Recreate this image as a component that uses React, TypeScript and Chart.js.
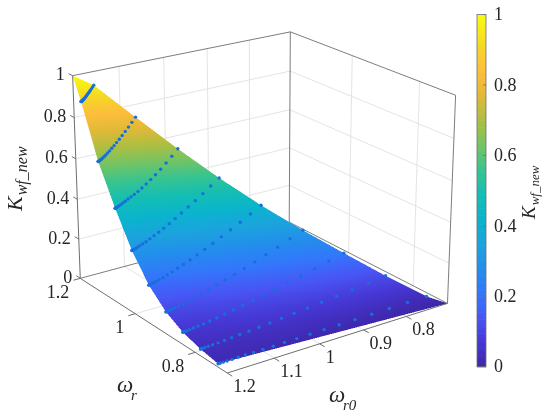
import React, { useEffect, useRef } from 'react';
import { Chart, registerables } from 'chart.js';

Chart.register(...registerables);

// ---------------- data ----------------
// axis ranges
const omegaRRange = [0.7, 1.2];
const omegaR0Range = [0.7, 1.2];
const kRange = [0, 1];

// tick labels
const omegaRTicks = [1.2, 1, 0.8];
const omegaR0Ticks = [1.2, 1.1, 1, 0.9, 0.8];
const kTicks = [0, 0.2, 0.4, 0.6, 0.8, 1];
const colorbarTicks = [0, 0.2, 0.4, 0.6, 0.8, 1];

// omega_r of each line of sample points
const omegaRLines = [1.172, 1.117, 1.061, 1.006, 0.95, 0.894, 0.839, 0.783, 0.728];
// position of each sample along its line: 0 = omega_r0 at 1.2, 1 = omega_r0 equal to omega_r
const sampleSteps = [0, 0.0025, 0.01, 0.0225, 0.04, 0.0625, 0.09, 0.1225, 0.16, 0.2025, 0.25,
  0.3025, 0.36, 0.4225, 0.49, 0.5625, 0.64, 0.7225, 0.81, 0.9025, 1];

// K_wf_new at each sample point (one row per line)
const kLine1 = [0.895, 0.895, 0.895, 0.896, 0.896, 0.897, 0.898, 0.900, 0.902, 0.904, 0.906, 0.910, 0.913, 0.917, 0.922, 0.927, 0.932, 0.938, 0.945, 0.952, 0.960];
const kLine2 = [0.647, 0.647, 0.648, 0.648, 0.650, 0.652, 0.655, 0.659, 0.664, 0.670, 0.677, 0.685, 0.695, 0.705, 0.717, 0.730, 0.745, 0.761, 0.778, 0.797, 0.818];
const kLine3 = [0.464, 0.464, 0.465, 0.466, 0.468, 0.471, 0.475, 0.480, 0.486, 0.493, 0.500, 0.508, 0.518, 0.530, 0.544, 0.560, 0.578, 0.598, 0.622, 0.648, 0.677];
const kLine4 = [0.305, 0.305, 0.306, 0.307, 0.309, 0.313, 0.317, 0.323, 0.329, 0.338, 0.348, 0.359, 0.372, 0.387, 0.404, 0.423, 0.444, 0.466, 0.491, 0.518, 0.547];
const kLine5 = [0.185, 0.185, 0.186, 0.187, 0.189, 0.193, 0.197, 0.202, 0.209, 0.218, 0.228, 0.239, 0.252, 0.267, 0.284, 0.302, 0.323, 0.346, 0.370, 0.397, 0.426];
const kLine6 = [0.106, 0.106, 0.107, 0.108, 0.110, 0.113, 0.116, 0.121, 0.127, 0.135, 0.143, 0.153, 0.165, 0.178, 0.192, 0.208, 0.226, 0.246, 0.267, 0.291, 0.316];
const kLine7 = [0.059, 0.059, 0.060, 0.060, 0.062, 0.064, 0.067, 0.070, 0.075, 0.080, 0.087, 0.094, 0.103, 0.112, 0.123, 0.135, 0.149, 0.164, 0.180, 0.197, 0.216];
const kLine8 = [0.032, 0.032, 0.032, 0.033, 0.034, 0.035, 0.036, 0.038, 0.041, 0.044, 0.047, 0.051, 0.056, 0.061, 0.067, 0.073, 0.081, 0.089, 0.097, 0.107, 0.117];
const kLine9 = [0.016, 0.016, 0.016, 0.016, 0.016, 0.016, 0.017, 0.017, 0.017, 0.018, 0.018, 0.019, 0.019, 0.020, 0.021, 0.022, 0.023, 0.024, 0.025, 0.027, 0.028];
const kLines = [kLine1, kLine2, kLine3, kLine4, kLine5, kLine6, kLine7, kLine8, kLine9];

// the two corner points of the surface
const topCorner = { wr: 1.2, wr0: 1.2, k: 1 };
const tipCorner = { wr: 0.7, wr0: 0.7, k: 0 };

// ---------------- view / style ----------------
const VIEW = { az: 54.5, el: 21, dist: 7, zAspect: 0.82 };
const X_RANGE = { min: -0.9652, max: 1.0688 };
const Y_RANGE = { min: -0.8321, max: 0.7027 };
const CB_RANGE = { min: -0.1324, max: 1.0366 };
const CB_LEFT = 477;
const CB_WIDTH = 9;

const FONT = '"Liberation Serif", "Times New Roman", serif';
const TEXT_COLOR = '#262626';
const AXIS_COLOR = '#6e6e6e';
const GRID_COLOR = '#e4e4e4';
const DOT_COLOR = '#1570dc';

const parulaStops: number[][] = [
  [0.0, 62, 38, 168],
  [0.07, 70, 55, 212],
  [0.14, 72, 85, 244],
  [0.21, 52, 118, 252],
  [0.28, 35, 142, 236],
  [0.35, 28, 163, 222],
  [0.42, 10, 180, 205],
  [0.49, 20, 190, 180],
  [0.56, 55, 196, 145],
  [0.63, 115, 196, 100],
  [0.7, 175, 190, 65],
  [0.77, 225, 185, 55],
  [0.84, 253, 190, 60],
  [0.91, 245, 215, 38],
  [1.0, 249, 251, 14],
];

function parulaRGB(v: number): [number, number, number] {
  const t = Math.max(0, Math.min(1, v));
  for (let i = 1; i < parulaStops.length; i++) {
    const a = parulaStops[i - 1];
    const b = parulaStops[i];
    if (t <= b[0]) {
      const f = (t - a[0]) / (b[0] - a[0]);
      return [
        Math.round(a[1] + (b[1] - a[1]) * f),
        Math.round(a[2] + (b[2] - a[2]) * f),
        Math.round(a[3] + (b[3] - a[3]) * f),
      ];
    }
  }
  return [249, 251, 14];
}
function parula(v: number): string {
  const c = parulaRGB(v);
  return `rgb(${c[0]},${c[1]},${c[2]})`;
}

// perspective projection of (omega_r, omega_r0, K) into the chart's x/y value space
function project(wr: number, wr0: number, k: number) {
  const u = (omegaRRange[1] - wr) / (omegaRRange[1] - omegaRRange[0]) - 0.5;
  const v = (omegaR0Range[1] - wr0) / (omegaR0Range[1] - omegaR0Range[0]) - 0.5;
  const z = ((k - kRange[0]) / (kRange[1] - kRange[0]) - 0.5) * VIEW.zAspect;
  const a = (VIEW.az * Math.PI) / 180;
  const e = (VIEW.el * Math.PI) / 180;
  const pt = u * Math.sin(a) - v * Math.cos(a);
  const pr = u * Math.cos(a) + v * Math.sin(a);
  const d = VIEW.dist - Math.cos(e) * pt - Math.sin(e) * z;
  const yc = -Math.sin(e) * pt + Math.cos(e) * z;
  return { x: (VIEW.dist * pr) / d, y: (VIEW.dist * yc) / d, depth: d };
}

type P3 = { wr: number; wr0: number; k: number };

function samplePoint(i: number, j: number): P3 {
  const wr = omegaRLines[i];
  const wr0 = omegaR0Range[1] - sampleSteps[j] * (omegaR0Range[1] - wr);
  return { wr, wr0, k: kLines[i][j] };
}

function buildTriangles(): P3[][] {
  const tris: P3[][] = [];
  const nJ = sampleSteps.length;
  for (let j = 0; j < nJ - 1; j++) {
    tris.push([topCorner, samplePoint(0, j), samplePoint(0, j + 1)]);
  }
  for (let i = 0; i < omegaRLines.length - 1; i++) {
    for (let j = 0; j < nJ - 1; j++) {
      const a = samplePoint(i, j);
      const b = samplePoint(i, j + 1);
      const c = samplePoint(i + 1, j + 1);
      const d = samplePoint(i + 1, j);
      tris.push([a, b, c]);
      tris.push([a, c, d]);
    }
  }
  const last = omegaRLines.length - 1;
  for (let j = 0; j < nJ - 1; j++) {
    tris.push([tipCorner, samplePoint(last, j), samplePoint(last, j + 1)]);
  }
  return tris;
}

const scenePlugin = {
  id: 'scene3d',
  beforeDatasetsDraw(chart: any) {
    const ctx: CanvasRenderingContext2D = chart.ctx;
    const sx = chart.scales.x;
    const sy = chart.scales.y;
    const cb = chart.scales.cb;
    const px = (wr: number, wr0: number, k: number): [number, number] => {
      const p = project(wr, wr0, k);
      return [sx.getPixelForValue(p.x), sy.getPixelForValue(p.y)];
    };
    const line = (a: [number, number], b: [number, number], color: string, w: number) => {
      ctx.beginPath();
      ctx.moveTo(a[0], a[1]);
      ctx.lineTo(b[0], b[1]);
      ctx.strokeStyle = color;
      ctx.lineWidth = w;
      ctx.stroke();
    };
    const [r0, r1] = omegaRRange;
    const [q0, q1] = omegaR0Range;
    const [k0, k1] = kRange;

    ctx.save();
    ctx.fillStyle = '#ffffff';
    ctx.fillRect(0, 0, chart.width, chart.height);

    // ---- grid on back walls and floor ----
    kTicks.filter((k) => k > k0 && k < k1).forEach((k) => {
      line(px(r1, q1, k), px(r1, q0, k), GRID_COLOR, 1);
      line(px(r1, q0, k), px(r0, q0, k), GRID_COLOR, 1);
    });
    omegaR0Ticks.filter((q) => q > q0 && q < q1).forEach((q) => {
      line(px(r1, q, k0), px(r1, q, k1), GRID_COLOR, 1);
      line(px(r1, q, k0), px(r0, q, k0), GRID_COLOR, 1);
    });
    omegaRTicks.filter((r) => r > r0 && r < r1).forEach((r) => {
      line(px(r, q0, k0), px(r, q0, k1), GRID_COLOR, 1);
      line(px(r, q1, k0), px(r, q0, k0), GRID_COLOR, 1);
    });

    // ---- back box edges ----
    line(px(r1, q1, k0), px(r1, q0, k0), AXIS_COLOR, 0.9);
    line(px(r1, q0, k0), px(r0, q0, k0), AXIS_COLOR, 0.9);
    line(px(r1, q0, k0), px(r1, q0, k1), AXIS_COLOR, 0.9);
    line(px(r1, q1, k1), px(r1, q0, k1), AXIS_COLOR, 0.9);
    line(px(r1, q0, k1), px(r0, q0, k1), AXIS_COLOR, 0.9);
    line(px(r0, q0, k0), px(r0, q0, k1), AXIS_COLOR, 0.9);

    // ---- surface: rasterised with interpolated colour, 2x supersampled ----
    const SS = 2;
    const W = Math.round(chart.width);
    const H = Math.round(chart.height);
    const off = document.createElement('canvas');
    off.width = W * SS;
    off.height = H * SS;
    const octx = off.getContext('2d');
    if (octx) {
      const img = octx.createImageData(W * SS, H * SS);
      const buf = img.data;
      const lut: [number, number, number][] = [];
      for (let i = 0; i <= 1024; i++) lut.push(parulaRGB(i / 1024));
      const tris = buildTriangles();
      const items = tris.map((t) => {
        const pts = t.map((p) => {
          const pr = project(p.wr, p.wr0, p.k);
          const q = px(p.wr, p.wr0, p.k);
          return { x: q[0] * SS, y: q[1] * SS, k: p.k, d: pr.depth };
        });
        return { pts, depth: (pts[0].d + pts[1].d + pts[2].d) / 3 };
      });
      items.sort((a, b) => b.depth - a.depth);
      const eps = 1e-6;
      items.forEach(({ pts }) => {
        const [A, B, C] = pts;
        const den = (B.y - C.y) * (A.x - C.x) + (C.x - B.x) * (A.y - C.y);
        if (Math.abs(den) < 1e-9) return;
        const minX = Math.max(0, Math.floor(Math.min(A.x, B.x, C.x)));
        const maxX = Math.min(W * SS - 1, Math.ceil(Math.max(A.x, B.x, C.x)));
        const minY = Math.max(0, Math.floor(Math.min(A.y, B.y, C.y)));
        const maxY = Math.min(H * SS - 1, Math.ceil(Math.max(A.y, B.y, C.y)));
        for (let y = minY; y <= maxY; y++) {
          const cy = y + 0.5;
          for (let x = minX; x <= maxX; x++) {
            const cx = x + 0.5;
            const l0 = ((B.y - C.y) * (cx - C.x) + (C.x - B.x) * (cy - C.y)) / den;
            const l1 = ((C.y - A.y) * (cx - C.x) + (A.x - C.x) * (cy - C.y)) / den;
            const l2 = 1 - l0 - l1;
            if (l0 < -eps || l1 < -eps || l2 < -eps) continue;
            const k = l0 * A.k + l1 * B.k + l2 * C.k;
            const c = lut[Math.max(0, Math.min(1024, Math.round(k * 1024)))];
            const idx = (y * W * SS + x) * 4;
            buf[idx] = c[0];
            buf[idx + 1] = c[1];
            buf[idx + 2] = c[2];
            buf[idx + 3] = 255;
          }
        }
      });
      octx.putImageData(img, 0, 0);
      ctx.imageSmoothingEnabled = true;
      ctx.drawImage(off, 0, 0, W, H);
    }

    // ---- front axes ----
    line(px(r1, q1, k0), px(r1, q1, k1), AXIS_COLOR, 1);
    line(px(r1, q1, k0), px(r0, q1, k0), AXIS_COLOR, 1);
    line(px(r0, q1, k0), px(r0, q0, k0), AXIS_COLOR, 1);

    ctx.fillStyle = TEXT_COLOR;
    ctx.font = `18px ${FONT}`;

    // K axis ticks + labels
    ctx.textAlign = 'right';
    ctx.textBaseline = 'middle';
    kTicks.forEach((k) => {
      const a = px(r1, q1, k);
      const b = px(r1 + 0.015, q1, k);
      line(a, b, AXIS_COLOR, 1);
      ctx.fillText(String(k), a[0] - 8, a[1]);
    });
    // omega_r ticks + labels
    omegaRTicks.forEach((r) => {
      const a = px(r, q1, k0);
      const b = px(r, q1 + 0.015, k0);
      line(a, b, AXIS_COLOR, 1);
      ctx.fillText(String(r), a[0] - 11, a[1] + 15);
    });
    // omega_r0 ticks + labels
    ctx.textAlign = 'left';
    omegaR0Ticks.forEach((q) => {
      const a = px(r0, q, k0);
      const b = px(r0 - 0.015, q, k0);
      line(a, b, AXIS_COLOR, 1);
      ctx.fillText(String(q), a[0] + 6, a[1] + 14);
    });

    // axis labels
    ctx.textBaseline = 'alphabetic';
    ctx.font = `italic 23px ${FONT}`;
    ctx.fillText('\u03c9', 117, 392);
    ctx.font = `italic 15px ${FONT}`;
    ctx.fillText('r', 131, 400);
    ctx.font = `italic 23px ${FONT}`;
    ctx.fillText('\u03c9', 329, 402);
    ctx.font = `italic 15px ${FONT}`;
    ctx.fillText('r0', 343, 410);

    const rotatedLabel = (x: number, y: number, big: number, small: number, drop: number) => {
      ctx.save();
      ctx.translate(x, y);
      ctx.rotate(-Math.PI / 2);
      ctx.font = `italic ${big}px ${FONT}`;
      ctx.fillText('K', 0, 0);
      const w = ctx.measureText('K').width;
      ctx.font = `italic ${small}px ${FONT}`;
      ctx.fillText('wf_new', w + 1, drop);
      ctx.restore();
    };
    rotatedLabel(22, 211, 22, 16, 5);
    rotatedLabel(535, 219, 19, 13, 4);

    // ---- colorbar ----
    const top = cb.getPixelForValue(1);
    const bottom = cb.getPixelForValue(0);
    const steps = 200;
    for (let s = 0; s < steps; s++) {
      const v0 = s / steps;
      const v1 = (s + 1) / steps;
      const y0 = cb.getPixelForValue(v1);
      const y1 = cb.getPixelForValue(v0);
      ctx.fillStyle = parula((v0 + v1) / 2);
      ctx.fillRect(CB_LEFT, y0, CB_WIDTH, y1 - y0 + 0.6);
    }
    ctx.strokeStyle = AXIS_COLOR;
    ctx.lineWidth = 0.8;
    ctx.strokeRect(CB_LEFT, top, CB_WIDTH, bottom - top);
    ctx.fillStyle = TEXT_COLOR;
    ctx.font = `18px ${FONT}`;
    ctx.textAlign = 'left';
    ctx.textBaseline = 'middle';
    colorbarTicks.forEach((v) => {
      const y = cb.getPixelForValue(v);
      line([CB_LEFT + CB_WIDTH - 3, y], [CB_LEFT + CB_WIDTH, y], AXIS_COLOR, 0.8);
      ctx.fillText(String(v), CB_LEFT + CB_WIDTH + 8, y + 1);
    });
    ctx.restore();
  },
};

export default function App() {
  const ref = useRef<HTMLCanvasElement>(null);
  useEffect(() => {
    const canvas = ref.current;
    if (!canvas) return;
    const points: { x: number; y: number }[] = [];
    omegaRLines.forEach((_, i) => {
      sampleSteps.forEach((_s, j) => {
        const p3 = samplePoint(i, j);
        const p = project(p3.wr, p3.wr0, p3.k);
        points.push({ x: p.x, y: p.y });
      });
    });
    const chart = new Chart(canvas, {
      type: 'scatter',
      data: {
        datasets: [
          {
            data: points,
            pointRadius: 1.7,
            pointHoverRadius: 1.7,
            backgroundColor: DOT_COLOR,
            borderWidth: 0,
          },
        ],
      },
      options: {
        animation: false,
        responsive: false,
        events: [],
        layout: { padding: 0 },
        plugins: { legend: { display: false }, tooltip: { enabled: false } },
        scales: {
          x: { type: 'linear', min: X_RANGE.min, max: X_RANGE.max, display: false },
          y: { type: 'linear', min: Y_RANGE.min, max: Y_RANGE.max, display: false },
          cb: { type: 'linear', axis: 'y', min: CB_RANGE.min, max: CB_RANGE.max, display: false },
        },
      } as any,
      plugins: [scenePlugin],
    });
    return () => chart.destroy();
  }, []);
  return (
    <div style={{ position: 'fixed', left: 0, top: 0, width: 550, height: 415, background: '#fff' }}>
      <canvas ref={ref} width={550} height={415} style={{ display: 'block' }} />
    </div>
  );
}
